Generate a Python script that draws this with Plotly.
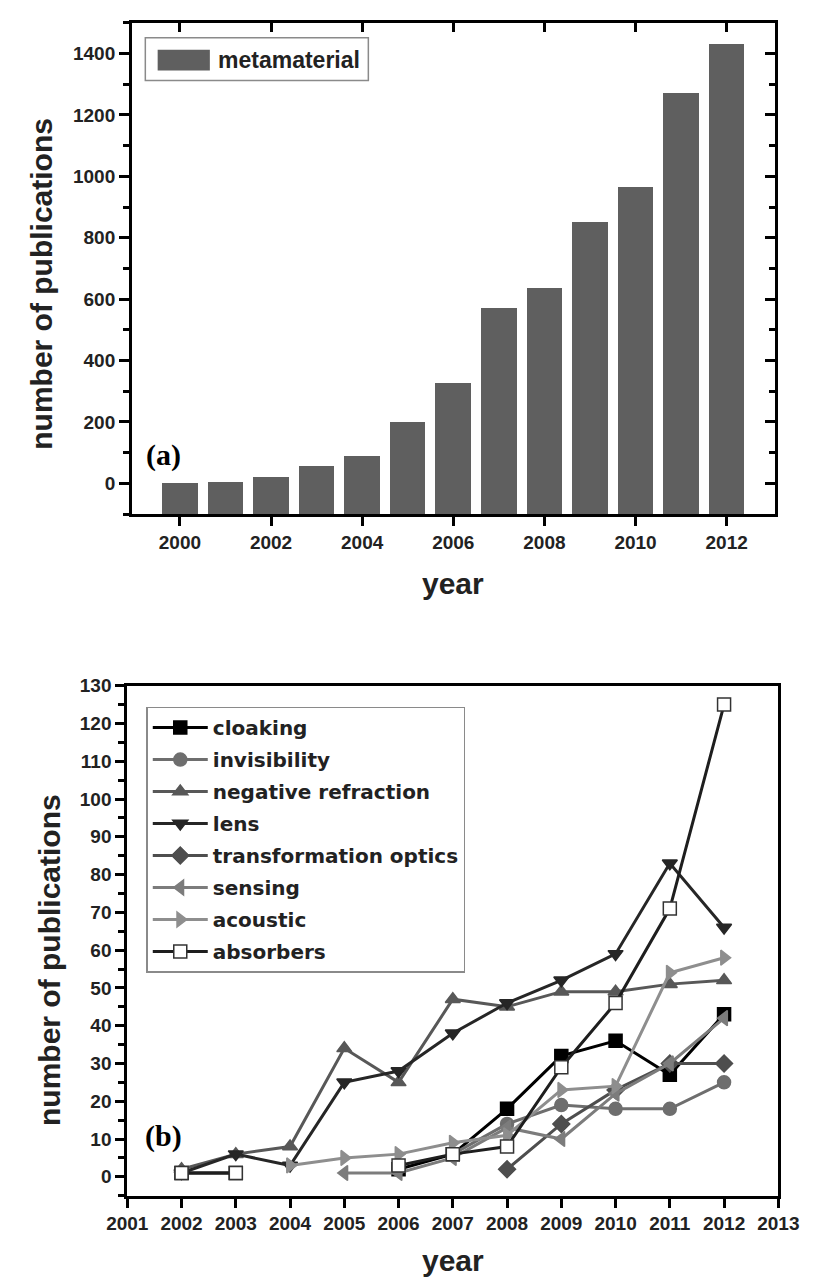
import plotly.graph_objects as go

W, H = 824, 1282

# ---- (a) yearly metamaterial publications ----
years_a = [2000, 2001, 2002, 2003, 2004, 2005, 2006, 2007, 2008, 2009, 2010, 2011, 2012]
metamaterial = [2, 5, 20, 56, 91, 199, 328, 573, 638, 852, 965, 1271, 1432]
ticks_a_x = [2000, 2002, 2004, 2006, 2008, 2010, 2012]
ticks_a_y = [0, 200, 400, 600, 800, 1000, 1200, 1400]
BAR_BASE = -100  # bars rise from the bottom of the axis frame

# ---- (b) publications per research topic ----
years_b = [2002, 2003, 2004, 2005, 2006, 2007, 2008, 2009, 2010, 2011, 2012]
cloaking = [1, 1, None, None, 2, 6, 18, 32, 36, 27, 43]
invisibility = [None, None, None, None, None, 6, 14, 19, 18, 18, 25]
negative_refraction = [2, 6, 8, 34, 25, 47, 45, 49, 49, 51, 52]
lens = [1, 6, 3, 25, 28, 38, 46, 52, 59, 83, 66]
transformation_optics = [None, None, None, None, None, None, 2, 14, 23, 30, 30]
sensing = [None, None, None, 1, 1, 5, 13, 10, 22, 30, 42]
acoustic = [None, None, 3, 5, 6, 9, 11, 23, 24, 54, 58]
absorbers = [1, 1, None, None, 3, 6, 8, 29, 46, 71, 125]
ticks_b_x = list(range(2001, 2014))
ticks_b_y = list(range(0, 131, 10))

series_b = [
    ("cloaking", cloaking, "#000000", "square", "#000000"),
    ("invisibility", invisibility, "#6e6e6e", "circle", "#6e6e6e"),
    ("negative refraction", negative_refraction, "#585858", "triangle-up", "#585858"),
    ("lens", lens, "#262626", "triangle-down", "#262626"),
    ("transformation optics", transformation_optics, "#4e4e4e", "diamond", "#4e4e4e"),
    ("sensing", sensing, "#7c7c7c", "triangle-left", "#7c7c7c"),
    ("acoustic", acoustic, "#8e8e8e", "triangle-right", "#8e8e8e"),
    ("absorbers", absorbers, "#1e1e1e", "square", "#ffffff"),
]

SANS = "Liberation Sans"
TICKFONT = dict(family=SANS, size=19, color="#222222", weight="bold")
TITLEFONT = dict(family=SANS, size=30, color="#222222", weight="bold")


def fx(p):
    return p / W


def fy(p):
    return 1 - p / H


fig = go.Figure()

fig.add_trace(go.Bar(
    x=years_a,
    y=[v - BAR_BASE for v in metamaterial],
    base=BAR_BASE,
    customdata=metamaterial,
    hovertemplate="%{x}: %{customdata}<extra></extra>",
    width=0.78,
    marker=dict(color="#5f5f5f", line=dict(width=0)),
    xaxis="x", yaxis="y",
    name="metamaterial",
    showlegend=False,
))
# helper trace so the mirrored frame axes of panel (a) are rendered
fig.add_trace(go.Scatter(x=[None], y=[None], xaxis="x3", yaxis="y3",
                         showlegend=False, hoverinfo="skip"))

for name, vals, col, sym, fill in series_b:
    fig.add_trace(go.Scatter(
        x=years_b, y=vals, name=name, mode="lines+markers",
        xaxis="x2", yaxis="y2",
        line=dict(color=col, width=3),
        marker=dict(symbol=sym, size=13, color=fill,
                    line=dict(color=col if fill != "#ffffff" else "#333333", width=1.5)),
        connectgaps=False,
        legend="legend2",
        legendgroup=name,
    ))

axis_common = dict(showline=True, linecolor="black", linewidth=3,
                   tickcolor="black", tickwidth=2.5, showgrid=False,
                   zeroline=False, tickfont=TICKFONT)

dom_a_x = [fx(117), fx(794)]
dom_a_y = [fy(508), fy(13)]
dom_b_x = [fx(112), fx(798)]
dom_b_y = [fy(1195), fy(681)]

fig.update_layout(
    width=W, height=H,
    margin=dict(l=0, r=0, t=0, b=0),
    paper_bgcolor="white", plot_bgcolor="white",
    bargap=0,
    xaxis=dict(domain=dom_a_x, anchor="y", range=[1998.95, 2013.05],
               tickmode="array", tickvals=ticks_a_x, ticks="outside", ticklen=9,
               **axis_common),
    yaxis=dict(domain=dom_a_y, anchor="x", range=[-100, 1500],
               tickmode="array", tickvals=ticks_a_y, ticks="outside", ticklen=10,
               minor=dict(tickmode="linear", tick0=100, dtick=200, ticks="outside",
                          ticklen=6, tickwidth=2.5, tickcolor="black"),
               **axis_common),
    xaxis3=dict(overlaying="x", anchor="y", side="top", range=[1998.95, 2013.05],
                tickmode="array", tickvals=ticks_a_x, ticks="inside", ticklen=9,
                showticklabels=False, **axis_common),
    yaxis3=dict(overlaying="y", anchor="x", side="right", range=[-100, 1500],
                tickmode="array", tickvals=ticks_a_y, ticks="inside", ticklen=10,
                showticklabels=False,
                minor=dict(tickmode="linear", tick0=100, dtick=200, ticks="inside",
                           ticklen=6, tickwidth=2.5, tickcolor="black"),
                **axis_common),
    xaxis2=dict(domain=dom_b_x, anchor="y2", range=[2001, 2013],
                tickmode="array", tickvals=ticks_b_x, ticks="outside", ticklen=9,
                mirror=True, **axis_common),
    yaxis2=dict(domain=dom_b_y, anchor="x2", range=[-5, 130],
                tickmode="array", tickvals=ticks_b_y, ticks="outside", ticklen=9,
                mirror=True,
                minor=dict(tickmode="linear", tick0=5, dtick=10, ticks="outside",
                           ticklen=6, tickwidth=2.5, tickcolor="black"),
                **axis_common),
    legend2=dict(x=fx(132), y=fy(702), xanchor="left", yanchor="top",
                 xref="paper", yref="paper",
                 bgcolor="white", bordercolor="#8a8a8a", borderwidth=1.5,
                 font=dict(family="DejaVu Sans", size=20, color="#222222", weight="bold"),
                 itemwidth=55, tracegroupgap=3),
    showlegend=True,
)

# legend box of panel (a)
fig.add_shape(type="rect", xref="paper", yref="paper",
              x0=fx(131), x1=fx(366), y0=fy(71), y1=fy(28),
              line=dict(color="#8a8a8a", width=1.5), fillcolor="white", layer="above")
fig.add_shape(type="rect", xref="paper", yref="paper",
              x0=fx(144), x1=fx(199), y0=fy(61), y1=fy(40),
              line=dict(width=0), fillcolor="#5f5f5f", layer="above")
fig.add_annotation(text="metamaterial", xref="paper", yref="paper",
                   x=fx(205), y=fy(50), xanchor="left", yanchor="middle",
                   showarrow=False,
                   font=dict(family=SANS, size=23, color="#222222", weight="bold"))

# panel labels
for lab, cx, cy in [("(a)", 150, 448), ("(b)", 150, 1135)]:
    fig.add_annotation(text=lab, xref="paper", yref="paper", x=fx(cx), y=fy(cy),
                       xanchor="center", yanchor="middle", showarrow=False,
                       font=dict(family="Liberation Serif", size=30, color="black",
                                 weight="bold"))

# axis titles
for cx, cy in [(455, 578), (455, 1260)]:
    fig.add_annotation(text="year", xref="paper", yref="paper", x=fx(cx), y=fy(cy),
                       xanchor="center", yanchor="middle", showarrow=False,
                       font=TITLEFONT)
for cx, cy in [(22, 276), (30, 957)]:
    fig.add_annotation(text="number of publications", xref="paper", yref="paper",
                       x=fx(cx), y=fy(cy), xanchor="center", yanchor="middle",
                       textangle=-90, showarrow=False, font=TITLEFONT)

fig.write_html("out.html")
